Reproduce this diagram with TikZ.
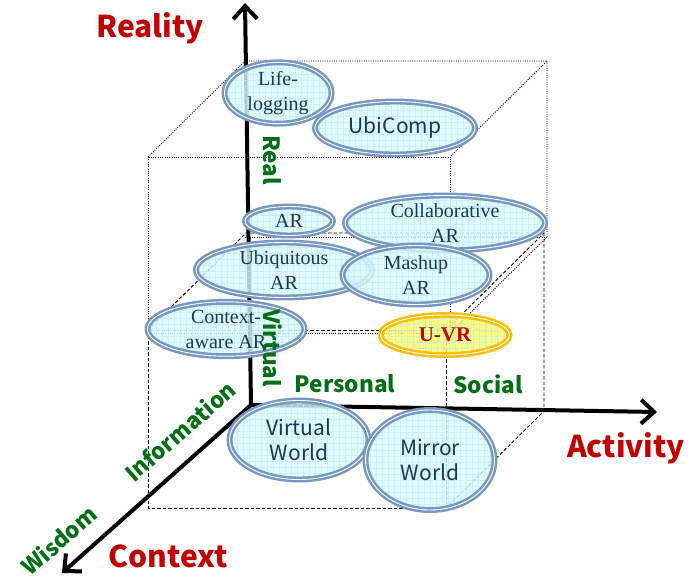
\documentclass[tikz,border=0pt]{standalone}
\usepackage{fontspec}
\setmainfont{Liberation Serif}
\newfontfamily\krsans{Noto Sans CJK KR}
\usetikzlibrary{positioning,shapes.geometric,arrows.meta}
\definecolor{ringblue}{RGB}{120,152,196}
\definecolor{bubblefill}{RGB}{218,250,254}
\definecolor{gridcyan}{RGB}{190,236,246}
\definecolor{inkblue}{RGB}{23,55,94}
\definecolor{goldring}{RGB}{255,190,0}
\definecolor{goldfill}{RGB}{255,255,110}
\definecolor{axisred}{RGB}{192,0,0}
\definecolor{leafgreen}{RGB}{0,110,20}

\begin{document}
\begin{tikzpicture}[x=1pt,y=-1pt,
    axis/.style={line width=4pt,-{Straight Barb[length=13pt,width=24pt]}},
    real box/.style={line width=0.9pt,dash pattern=on 1pt off 1.3pt},
    virtual box/.style={line width=0.9pt,dash pattern=on 3.5pt off 2pt},
    bubble/.style={ellipse,draw=ringblue,line width=2.5pt,double=white,double distance=0.9pt,
        fill=bubblefill,fill opacity=0.8,text opacity=1,inner sep=0pt,align=center,
        text=inkblue,font=\fontsize{20}{25}\selectfont,
        path picture={\draw[gridcyan,line width=0.4pt,opacity=0.7]
            (path picture bounding box.south west) grid[step=6pt] (path picture bounding box.north east);}},
    sans bubble/.style={bubble,font=\krsans\fontsize{21}{25}\selectfont},
    gold bubble/.style={bubble,draw=goldring,fill=goldfill,text=axisred,font=\fontsize{21}{25}\selectfont\bfseries},
    axis title/.style={text=axisred,font=\krsans\bfseries\fontsize{30}{34}\selectfont},
    level title/.style={text=leafgreen,font=\krsans\bfseries\fontsize{22.5}{26}\selectfont}]
\useasboundingbox (0,0) rectangle (696,579);

%Box corners
\coordinate (F1) at (148,157); \coordinate (F2) at (450,157);
\coordinate (F3) at (450,333); \coordinate (F4) at (148,333);
\coordinate (B1) at (245,61);  \coordinate (B2) at (547,61);
\coordinate (B3) at (547,237); \coordinate (B4) at (245,237);
\coordinate (G1) at (148,330); \coordinate (G2) at (446,330);
\coordinate (G3) at (446,508); \coordinate (G4) at (148,508);
\coordinate (H1) at (246,233); \coordinate (H2) at (544,233);
\coordinate (H3) at (544,411);

\draw[real box] (F1) rectangle (F3);
\draw[real box] (F1) -- (B1) -- (B2) -- (F2);
\draw[real box] (B2) -- (B3) -- (F3);
\draw[real box] (B4) -- (B3);
\draw[virtual box] (G1) rectangle (G3);
\draw[virtual box] (G1) -- (H1) -- (H2) -- (G2);
\draw[virtual box] (H2) -- (H3) -- (G3);

%Axes
\coordinate (O) at (251,405);
\coordinate (up) at (245,3);
\coordinate (right) at (657,412);
\coordinate (down) at (62,573);
\draw[axis] (O) -- (up);
\draw[axis] (O) -- (right);
\draw[axis] (O) -- (down);

%Nodes
\node[bubble,minimum width=107pt,minimum height=51pt] (lifelog) at (278,93) {Life-\\logging};
\node[sans bubble,minimum width=160pt,minimum height=53pt] (ubicomp) at (395,128) {UbiComp};
\node[bubble,minimum width=88pt,minimum height=29pt] (ar) at (289,221) {AR};
\node[bubble,minimum width=200pt,minimum height=51pt] (collab) at (445,223) {Collaborative\\AR};
\node[bubble,minimum width=176pt,minimum height=48pt] (ubiq) at (284,270) {Ubiquitous\\AR};
\node[bubble,minimum width=147pt,minimum height=59pt] (mashup) at (416,275) {Mashup\\AR};
\node[bubble,minimum width=157pt,minimum height=49pt] (ctxar) at (226,329) {Context-\\aware AR};
\node[gold bubble,minimum width=129pt,minimum height=40pt] (uvr) at (445,335) {U-VR};
\node[sans bubble,minimum width=139pt,minimum height=79pt] (vworld) at (299,440) {Virtual\\World};
\node[sans bubble,minimum width=129pt,minimum height=100pt] (mworld) at (430,460) {Mirror\\World};

%Labels
\node[axis title] (reality) at (150,28) {Reality};
\node[axis title] (activity) at (626,448) {Activity};
\node[axis title] (context) at (168,556) {Context};
\node[level title,rotate=-90] (real) at (272,160) {Real};
\node[level title,rotate=-90] (virtual) at (273,348) {Virtual};
\node[level title] (personal) at (345,384) {Personal};
\node[level title] (social) at (488,384) {Social};
\node[level title,rotate=41] (information) at (180,431) {Information};
\node[level title,rotate=41] (wisdom) at (59,540) {Wisdom};
\end{tikzpicture}
\end{document}
